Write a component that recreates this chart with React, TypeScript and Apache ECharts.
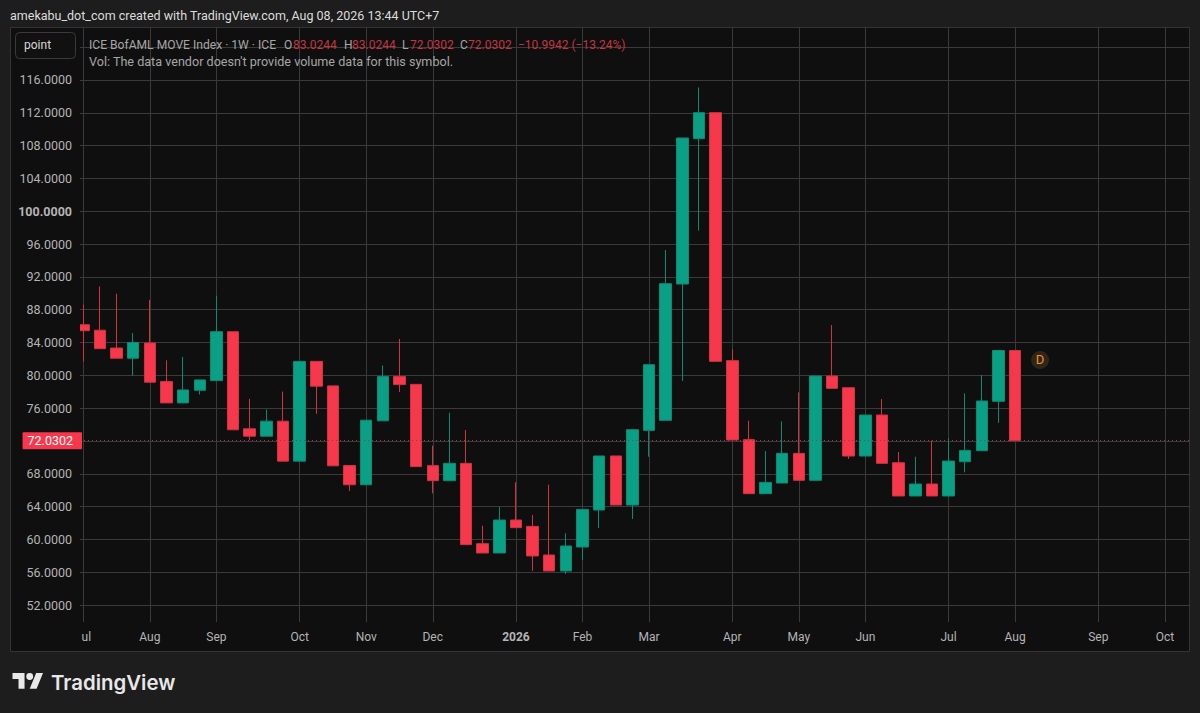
import React, { useEffect, useRef } from "react";
import * as echarts from "echarts";

const opens = [86.17, 85.5, 83.33, 82.08, 83.94, 79.24, 76.64, 78.18, 79.36, 85.32, 73.48, 72.58, 74.41, 69.54, 81.7, 78.71, 69.0, 66.66, 74.45, 79.85, 78.9, 68.99, 67.16, 69.27, 59.48, 58.34, 62.36, 61.59, 58.1, 56.15, 59.07, 63.58, 70.17, 64.19, 73.29, 74.51, 91.13, 108.85, 112.02, 81.79, 72.16, 65.57, 66.87, 70.49, 67.2, 79.91, 78.49, 70.16, 75.16, 69.35, 65.29, 66.75, 65.29, 69.47, 70.81, 76.83, 83.0244];
const closes = [85.44, 83.25, 82.08, 84.0, 79.16, 76.64, 78.22, 79.44, 85.32, 73.36, 72.58, 74.41, 69.54, 81.7, 78.67, 68.97, 66.66, 74.53, 79.85, 78.87, 68.87, 67.16, 69.27, 59.36, 58.34, 62.36, 61.43, 57.98, 56.15, 59.2, 63.66, 70.17, 64.19, 73.38, 81.3, 91.17, 108.93, 112.02, 81.7, 72.12, 65.57, 66.95, 70.49, 67.2, 79.91, 78.41, 70.16, 75.16, 69.27, 65.29, 66.75, 65.29, 69.55, 70.85, 76.87, 83.0244, 72.0302];
const lows = [81.7, 83.25, 82.08, 79.97, 79.16, 76.64, 76.64, 77.66, 79.36, 73.36, 72.1, 72.58, 69.54, 69.54, 75.3, 68.97, 65.9, 66.66, 74.45, 77.96, 68.87, 65.61, 67.16, 59.36, 58.34, 58.34, 61.43, 56.15, 56.15, 55.78, 57.49, 61.39, 64.19, 62.49, 70.08, 74.51, 79.31, 97.63, 81.7, 72.12, 65.57, 65.57, 66.87, 67.2, 67.2, 78.41, 69.8, 70.16, 69.27, 65.29, 65.29, 65.29, 65.29, 68.17, 70.81, 74.2, 72.0302];
const highs = [88.6, 90.84, 89.95, 85.16, 89.2, 81.83, 82.24, 79.44, 89.7, 85.32, 77.13, 75.83, 78.02, 81.7, 81.7, 78.71, 69.0, 74.53, 81.2, 84.43, 78.9, 71.43, 75.45, 73.33, 61.67, 63.95, 66.96, 62.97, 66.67, 60.74, 63.66, 70.17, 70.17, 73.38, 81.3, 95.28, 108.93, 115.1, 112.02, 83.2, 74.47, 70.77, 74.39, 77.92, 79.91, 86.13, 78.49, 75.16, 77.11, 70.65, 70.08, 72.03, 72.3, 77.8, 80.04, 83.0244, 83.0244];

const xTickIndex = [0, 4, 8, 13, 17, 21, 26, 30, 34, 39, 43, 47, 52, 56, 61, 65];
const xTickLabels = ["ul", "Aug", "Sep", "Oct", "Nov", "Dec", "2026", "Feb", "Mar", "Apr", "May", "Jun", "Jul", "Aug", "Sep", "Oct"];
const yGridValues = [52, 56, 60, 64, 68, 72, 76, 80, 84, 88, 92, 96, 100, 104, 108, 112, 116, 120];
const yLabelValues = [52, 56, 60, 64, 68, 72, 76, 80, 84, 88, 92, 96, 100, 104, 108, 112, 116];
const lastClose = 72.0302;

const UI_FONT = "Roboto";
const RED = "#F7374C";
const GREEN = "#09A085";
const GRID = "#3a3a3a";
const AXIS_TEXT = "#b4b4b4";
const LEGEND_GREY = "#a6a6a6";
const LEGEND_RED = "#c63342";

echarts.graphic.registerShape(
  "tvLogo",
  echarts.graphic.extendPath(
    "M14 22H7V11H0V4h14v18zM28 22h-8l7.5-18h8L28 22zM24 8a4 4 0 1 0-8 0a4 4 0 0 0 8 0z",
    {}
  )
);

const legendText = (x: number, y: number, text: string, fill: string, size = 12) => ({
  type: "text",
  x,
  y,
  z: 100,
  silent: true,
  style: { text, fill, font: `${size}px ${UI_FONT}`, textVerticalAlign: "middle", verticalAlign: "middle" },
});

export default function App() {
  const ref = useRef<HTMLDivElement>(null);
  useEffect(() => {
    document.body.style.margin = "0";
    const chart = echarts.init(ref.current!, undefined, { renderer: "svg" });
    chart.setOption({
      animation: false,
      backgroundColor: "#1d1d1d",
      textStyle: { fontFamily: UI_FONT },
      grid: { left: 80, right: 10, top: 27, bottom: 91 },
      xAxis: {
        type: "value",
        min: -0.2,
        max: 66.51,
        axisLine: { show: false },
        axisTick: { show: false, customValues: xTickIndex },
        splitLine: { show: true, lineStyle: { color: GRID, width: 1 } },
        axisLabel: {
          customValues: xTickIndex,
          color: AXIS_TEXT,
          fontSize: 12,
          fontFamily: UI_FONT,
          margin: 9,
          hideOverlap: false,
          formatter: (v: number) => {
            const label = xTickLabels[xTickIndex.indexOf(Math.round(v))] ?? "";
            if (label === "ul") return "{clip|ul}";
            if (label === "2026") return "{bold|2026}";
            return label;
          },
          rich: {
            clip: { padding: [0, 0, 0, 6], color: AXIS_TEXT, fontSize: 12, fontFamily: UI_FONT },
            bold: { fontWeight: "bold", color: AXIS_TEXT, fontSize: 12, fontFamily: UI_FONT },
          },
        },
      },
      yAxis: {
        type: "value",
        min: 49.93,
        max: 122.46,
        axisLine: { show: false },
        axisTick: { show: false, customValues: yGridValues },
        splitLine: { show: true, lineStyle: { color: GRID, width: 1 } },
        axisLabel: {
          customValues: yLabelValues,
          color: AXIS_TEXT,
          fontSize: 12.5,
          fontFamily: UI_FONT,
          margin: 8,
          formatter: (v: number) => (v === 100 ? `{bold|${v.toFixed(4)}}` : v.toFixed(4)),
          rich: { bold: { fontWeight: "bold", color: AXIS_TEXT, fontSize: 12.5, fontFamily: UI_FONT } },
        },
      },
      series: [
        {
          type: "candlestick",
          barWidth: 12,
          clip: true,
          encode: { x: 0, y: [1, 2, 3, 4] },
          itemStyle: {
            color: GREEN,
            color0: RED,
            borderColor: "#0a8a73",
            borderColor0: "#cf3342",
            borderWidth: 1,
          },
          data: opens.map((o, i) => [i, o, closes[i], lows[i], highs[i]]),
          markLine: {
            silent: true,
            symbol: "none",
            animation: false,
            lineStyle: { color: "#a83240", type: [1, 3], width: 1 },
            label: {
              show: true,
              position: "start",
              offset: [7, 0],
              formatter: lastClose.toFixed(4),
              color: "#ffffff",
              fontSize: 12.5,
              fontFamily: UI_FONT,
              backgroundColor: RED,
              padding: [2, 9, 2, 5],
              borderRadius: 1,
            },
            data: [{ yAxis: lastClose }],
          },
          markPoint: {
            silent: true,
            animation: false,
            symbol: "circle",
            symbolSize: 18,
            itemStyle: { color: "#2f2619" },
            label: { show: true, formatter: "D", color: "#ee8f1f", fontSize: 13, fontFamily: UI_FONT },
            data: [{ coord: [57.5, 81.87] }],
          },
        },
      ],
      graphic: [
        {
          type: "rect",
          z: -10,
          silent: true,
          shape: { x: 10.5, y: 27.5, width: 1179, height: 624 },
          style: { fill: "#0f0f0f", stroke: "#343434", lineWidth: 1 },
        },
        {
          type: "rect",
          z: 90,
          silent: true,
          shape: { x: 74, y: 320, width: 6, height: 16 },
          style: { fill: "#0f0f0f" },
        },
        {
          type: "rect",
          z: 90,
          silent: true,
          shape: { x: 15.5, y: 32.5, width: 60, height: 26, r: 4 },
          style: { fill: "#111111", stroke: "#3a3a3a", lineWidth: 1 },
        },
        legendText(24, 44.5, "point", "#d8d8d8"),
        legendText(10, 15.5, "amekabu_dot_com created with TradingView.com, Aug 08, 2026 13:44 UTC+7", "#dcdcdc", 12.5),
        legendText(89, 44.5, "ICE BofAML MOVE Index · 1W · ICE", LEGEND_GREY, 12.1),
        legendText(284, 44.5, "O", LEGEND_GREY),
        legendText(293, 44.5, "83.0244", LEGEND_RED),
        legendText(344, 44.5, "H", LEGEND_GREY),
        legendText(352, 44.5, "83.0244", LEGEND_RED),
        legendText(402, 44.5, "L", LEGEND_GREY),
        legendText(410, 44.5, "72.0302", LEGEND_RED),
        legendText(460, 44.5, "C", LEGEND_GREY),
        legendText(468, 44.5, "72.0302", LEGEND_RED),
        legendText(518, 44.5, "−10.9942 (−13.24%)", LEGEND_RED),
        legendText(89, 61, "Vol: The data vendor doesn't provide volume data for this symbol.", LEGEND_GREY, 12.6),
        {
          type: "tvLogo",
          x: 12.5,
          y: 669.5,
          scaleX: 0.86,
          scaleY: 0.87,
          z: 100,
          silent: true,
          style: { fill: "#e8e8e8" },
        },
        {
          type: "text",
          x: 51,
          y: 682,
          z: 100,
          silent: true,
          style: {
            text: "TradingView",
            fill: "#e8e8e8",
            font: "600 20.4px Inter",
            verticalAlign: "middle",
            textVerticalAlign: "middle",
          },
        },
      ],
    });
    return () => chart.dispose();
  }, []);
  return <div ref={ref} style={{ position: "fixed", left: 0, top: 0, width: 1200, height: 713 }} />;
}
